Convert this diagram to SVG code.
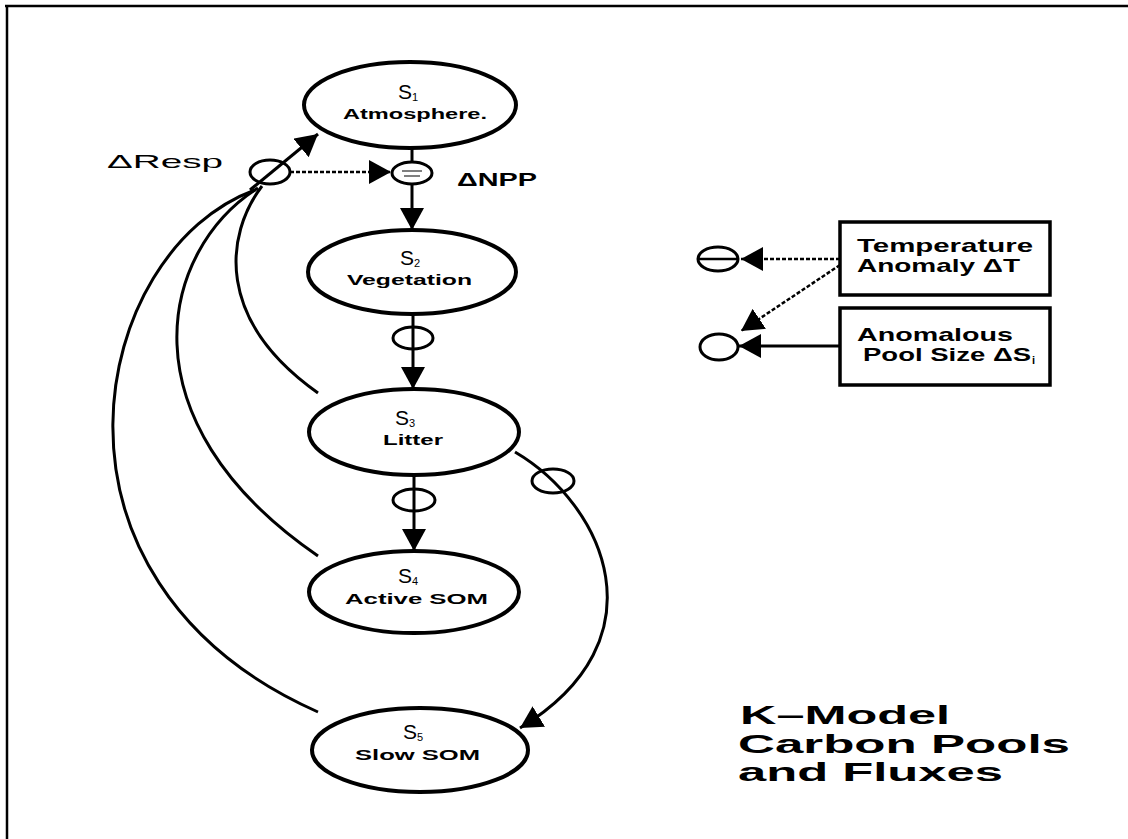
<svg xmlns="http://www.w3.org/2000/svg" width="1128" height="839" viewBox="0 0 1128 839">
<style>
.pool{fill:#fff;stroke:#000;stroke-width:4}
.sm{fill:none;stroke:#000;stroke-width:3}
.smw{fill:#fff;stroke:#000;stroke-width:3}
.ln{fill:none;stroke:#000;stroke-width:3}
.dash{fill:none;stroke:#000;stroke-width:2.5;stroke-dasharray:4 2}
.box{fill:#fff;stroke:#000;stroke-width:3.5}
.t{font-family:"Liberation Sans",Arial,sans-serif;fill:#000}
.s{font-size:21px;text-anchor:middle}
.n{font-size:14px;font-weight:bold}
.b{font-size:19px;font-weight:bold}
.r{font-size:19px}
.title{font-size:26px;font-weight:bold}
</style>
<defs>
<marker id="ah" viewBox="0 0 22 24" refX="22" refY="12" markerWidth="22" markerHeight="24" markerUnits="userSpaceOnUse" orient="auto">
<path d="M0,0 L22,12 L0,24 Z" fill="#000"/>
</marker>
</defs>
<rect width="1128" height="839" fill="#fff"/>
<g id="frame">
<line x1="5" y1="6" x2="1128" y2="6" stroke="#000" stroke-width="2.5"/>
<line x1="7" y1="5" x2="7" y2="839" stroke="#000" stroke-width="2.5"/>
</g>
<g id="connectors">
<line class="ln" x1="412" y1="148" x2="412" y2="162"/>
<line class="ln" x1="412" y1="184" x2="412" y2="230" marker-end="url(#ah)"/>
<line class="ln" x1="413" y1="314" x2="413" y2="389" marker-end="url(#ah)"/>
<line class="ln" x1="414" y1="475" x2="414" y2="551" marker-end="url(#ah)"/>
<line class="dash" x1="290" y1="172" x2="391" y2="172" marker-end="url(#ah)"/>
<line class="ln" x1="250" y1="190" x2="318" y2="134" marker-end="url(#ah)"/>
<path class="ln" d="M262,186 C225,235 215,320 318,393"/>
<path class="ln" d="M258,188 C160,250 120,420 318,556"/>
<path class="ln" d="M255,190 C90,250 20,580 318,712"/>
<path class="ln" d="M515,452 C605,505 665,640 520,728" marker-end="url(#ah)"/>
<line class="dash" x1="840" y1="259" x2="741" y2="259" marker-end="url(#ah)"/>
<line class="dash" x1="840" y1="265" x2="741" y2="331" marker-end="url(#ah)"/>
<line class="ln" x1="840" y1="346" x2="739" y2="346" marker-end="url(#ah)"/>
</g>
<g id="S1">
<ellipse class="pool" cx="410" cy="105" rx="106" ry="43"/>
<text class="t s" x="408" y="99">S<tspan font-size="11" dy="2">1</tspan></text>
<text class="t n" x="343" y="119" textLength="144" lengthAdjust="spacingAndGlyphs">Atmosphere.</text>
</g>
<g id="npp">
<ellipse class="smw" cx="412" cy="173" rx="20" ry="11"/>
<path d="M402,171 L422,171 M404,176 L420,176" stroke="#000" stroke-width="1.2" fill="none"/>
<text class="t b" x="457" y="186" textLength="80" lengthAdjust="spacingAndGlyphs">ΔNPP</text>
</g>
<g id="resp">
<ellipse class="sm" cx="270" cy="172" rx="20" ry="12"/>
<text class="t r" x="107" y="168" textLength="116" lengthAdjust="spacingAndGlyphs">ΔResp</text>
</g>
<g id="S2">
<ellipse class="pool" cx="412" cy="272" rx="104" ry="42"/>
<text class="t s" x="410" y="265">S<tspan font-size="11" dy="2">2</tspan></text>
<text class="t n" x="347" y="285" textLength="125" lengthAdjust="spacingAndGlyphs">Vegetation</text>
</g>
<g id="c1">
<ellipse class="sm" cx="413" cy="338" rx="20" ry="11"/>
</g>
<g id="S3">
<ellipse class="pool" cx="414" cy="432" rx="105" ry="43"/>
<text class="t s" x="405" y="425">S<tspan font-size="11" dy="2">3</tspan></text>
<text class="t n" x="383" y="445" textLength="60" lengthAdjust="spacingAndGlyphs">Litter</text>
</g>
<g id="c2">
<ellipse class="sm" cx="414" cy="500" rx="21" ry="11"/>
</g>
<g id="c3">
<ellipse class="sm" cx="553" cy="481" rx="21" ry="12"/>
</g>
<g id="S4">
<ellipse class="pool" cx="414" cy="592" rx="105" ry="41"/>
<text class="t s" x="408" y="583">S<tspan font-size="11" dy="2">4</tspan></text>
<text class="t n" x="345" y="604" textLength="143" lengthAdjust="spacingAndGlyphs">Active SOM</text>
</g>
<g id="S5">
<ellipse class="pool" cx="420" cy="750" rx="108" ry="42"/>
<text class="t s" x="413" y="739">S<tspan font-size="11" dy="2">5</tspan></text>
<text class="t n" x="355" y="760" textLength="125" lengthAdjust="spacingAndGlyphs">Slow SOM</text>
</g>
<g id="minus">
<ellipse class="sm" cx="718" cy="259" rx="20" ry="12"/>
<line x1="699" y1="259" x2="737" y2="259" stroke="#000" stroke-width="2.5"/>
</g>
<g id="sens">
<ellipse class="sm" cx="719" cy="347" rx="19" ry="13"/>
</g>
<g id="tempbox">
<rect class="box" x="840" y="222" width="210" height="73"/>
<text class="t b" x="857" y="252" textLength="176" lengthAdjust="spacingAndGlyphs">Temperature</text>
<text class="t b" x="857" y="272" textLength="163" lengthAdjust="spacingAndGlyphs">Anomaly ΔT</text>
</g>
<g id="poolbox">
<rect class="box" x="840" y="308" width="210" height="77"/>
<text class="t b" x="857" y="341" textLength="156" lengthAdjust="spacingAndGlyphs">Anomalous</text>
<text class="t b" x="863" y="361" textLength="168" lengthAdjust="spacingAndGlyphs">Pool Size ΔS</text>
<text class="t" x="1032" y="364" font-size="11" font-weight="bold">i</text>
</g>
<g id="title">
<text class="t title" x="740" y="724" textLength="210" lengthAdjust="spacingAndGlyphs">K–Model</text>
<text class="t title" x="738" y="753" textLength="332" lengthAdjust="spacingAndGlyphs">Carbon Pools</text>
<text class="t title" x="738" y="781" textLength="265" lengthAdjust="spacingAndGlyphs">and Fluxes</text>
</g>
</svg>
